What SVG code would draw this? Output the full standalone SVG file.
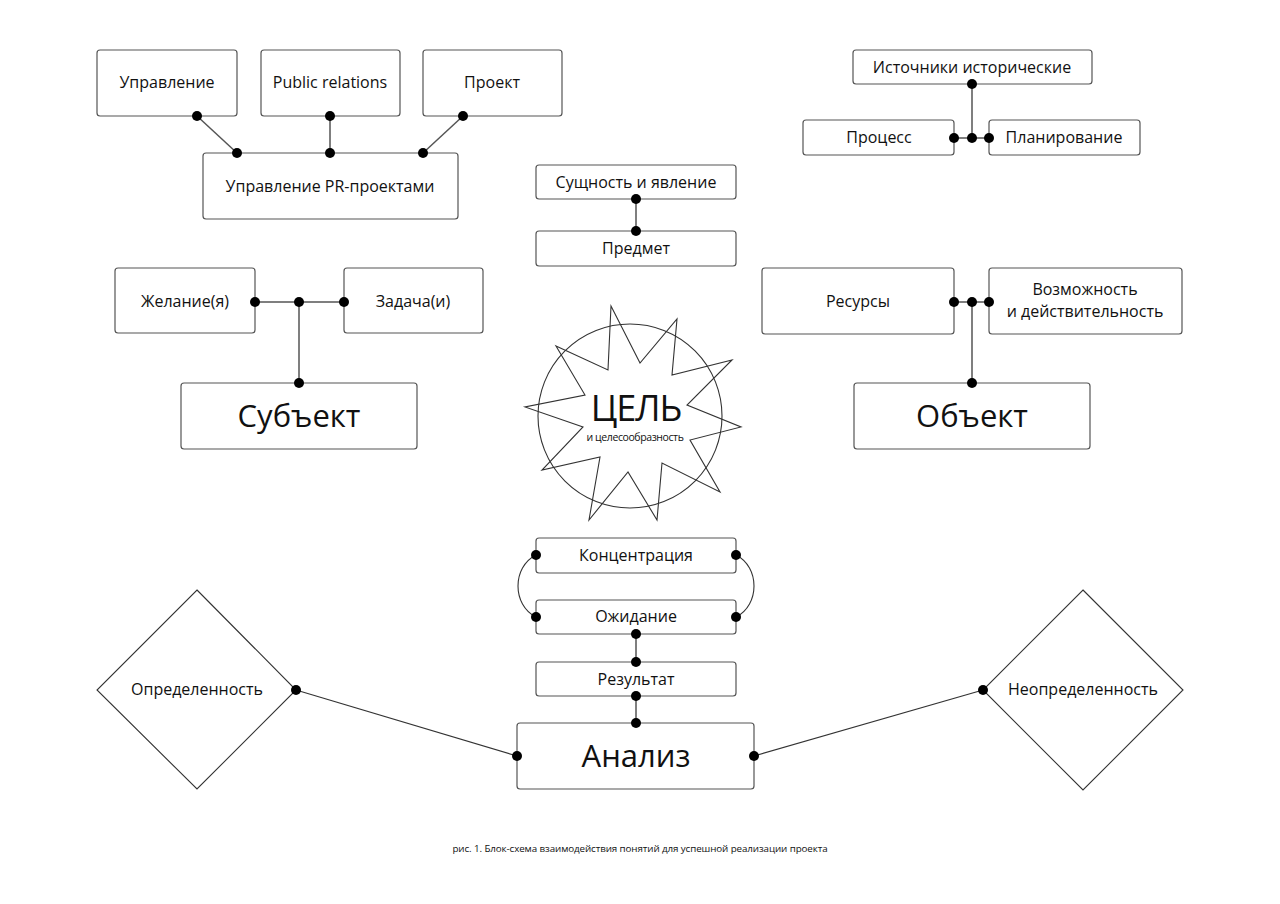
<svg xmlns="http://www.w3.org/2000/svg" width="1280" height="904" viewBox="0 0 1280 904">
<style>
.box{fill:#fff;stroke:#555;stroke-width:1.2}
.dia{fill:#fff;stroke:#333;stroke-width:1.1}
.ln{fill:none;stroke:#555;stroke-width:1.5}
.thin{fill:none;stroke:#333;stroke-width:1.1}
.dot{fill:#000}
text{font-family:"Open Sans","Noto Sans","Liberation Sans",sans-serif;fill:#111;text-anchor:middle}
.t{font-size:16px}
.big{font-size:31px}
</style>
<rect width="1280" height="904" fill="#fff"/>
<g id="connectors">
<line class="ln" x1="197" y1="116" x2="237" y2="153"/>
<line class="ln" x1="330" y1="116" x2="330" y2="153"/>
<line class="ln" x1="463" y1="116" x2="423" y2="153"/>
<line class="ln" x1="972" y1="84" x2="972" y2="138"/>
<line class="ln" x1="954" y1="138" x2="989" y2="138"/>
<line class="ln" x1="636" y1="199" x2="636" y2="231"/>
<line class="ln" x1="255" y1="302" x2="344" y2="302"/>
<line class="ln" x1="299" y1="302" x2="299" y2="383"/>
<line class="ln" x1="954" y1="302" x2="989" y2="302"/>
<line class="ln" x1="972" y1="302" x2="972" y2="383"/>
<path class="thin" d="M536,555 C512,567 512,605 536,617"/>
<path class="thin" d="M736,555 C760,567 760,605 736,617"/>
<line class="ln" x1="636" y1="634" x2="636" y2="662"/>
<line class="ln" x1="636" y1="696" x2="636" y2="723"/>
<line class="thin" x1="296" y1="690" x2="517" y2="756"/>
<line class="thin" x1="983" y1="690" x2="754" y2="756"/>
</g>
<g id="n-upravlenie"><rect class="box" x="97" y="50" width="140" height="66" rx="3"/><text class="t" x="167" y="88">Управление</text></g>
<g id="n-pr"><rect class="box" x="261" y="50" width="139" height="66" rx="3"/><text class="t" x="330" y="88">Public relations</text></g>
<g id="n-proekt"><rect class="box" x="423" y="50" width="139" height="66" rx="3"/><text class="t" x="492" y="88">Проект</text></g>
<g id="n-uprpr"><rect class="box" x="203" y="153" width="255" height="66" rx="3"/><text class="t" x="330" y="192">Управление PR-проектами</text></g>
<g id="n-istochniki"><rect class="box" x="853" y="50" width="239" height="34" rx="3"/><text class="t" x="972" y="73">Источники исторические</text></g>
<g id="n-process"><rect class="box" x="803" y="120" width="151" height="35" rx="3"/><text class="t" x="879" y="143">Процесс</text></g>
<g id="n-planirovanie"><rect class="box" x="989" y="120" width="151" height="35" rx="3"/><text class="t" x="1064" y="143">Планирование</text></g>
<g id="n-sushnost"><rect class="box" x="536" y="165" width="200" height="34" rx="3"/><text class="t" x="636" y="188">Сущность и явление</text></g>
<g id="n-predmet"><rect class="box" x="536" y="231" width="200" height="35" rx="3"/><text class="t" x="636" y="254">Предмет</text></g>
<g id="n-zhelanie"><rect class="box" x="115" y="268" width="140" height="65" rx="3"/><text class="t" x="185" y="307">Желание(я)</text></g>
<g id="n-zadacha"><rect class="box" x="344" y="268" width="139" height="65" rx="3"/><text class="t" x="413" y="307">Задача(и)</text></g>
<g id="n-subekt"><rect class="box" x="181" y="383" width="236" height="66" rx="3"/><text class="big" x="299" y="427">Субъект</text></g>
<g id="n-resursy"><rect class="box" x="762" y="268" width="192" height="66" rx="3"/><text class="t" x="858" y="307">Ресурсы</text></g>
<g id="n-vozmozhnost"><rect class="box" x="989" y="268" width="193" height="66" rx="3"/><text class="t" x="1085" y="295">Возможность</text><text class="t" x="1085" y="317">и действительность</text></g>
<g id="n-obekt"><rect class="box" x="854" y="383" width="236" height="66" rx="3"/><text class="big" x="972" y="427">Объект</text></g>
<g id="n-cel">
<circle class="thin" cx="630" cy="416" r="92"/>
<polygon class="thin" points="611,306 640,363 677,319 672,375 732,360 687,405 741,427 690,440 720,492 662,463 657,520 628,472 589,520 600,457 542,470 583,427 525,407 585,395 556,346 608,370"/>
<text x="636" y="421" font-size="36" letter-spacing="-1">ЦЕЛЬ</text>
<text x="635" y="441" font-size="10.5" letter-spacing="-0.4">и целесообразность</text>
</g>
<g id="n-koncentraciya"><rect class="box" x="536" y="538" width="200" height="35" rx="3"/><text class="t" x="636" y="561">Концентрация</text></g>
<g id="n-ozhidanie"><rect class="box" x="536" y="600" width="200" height="34" rx="3"/><text class="t" x="636" y="622">Ожидание</text></g>
<g id="n-rezultat"><rect class="box" x="536" y="662" width="200" height="34" rx="3"/><text class="t" x="636" y="685">Результат</text></g>
<g id="n-analiz"><rect class="box" x="517" y="723" width="237" height="66" rx="3"/><text class="big" x="636" y="767">Анализ</text></g>
<g id="n-opredelennost"><polygon class="dia" points="197,590 296,690 197,789 97,690"/><text class="t" x="197" y="695">Определенность</text></g>
<g id="n-neopredelennost"><polygon class="dia" points="1083,590 1183,690 1083,790 983,690"/><text class="t" x="1083" y="695">Неопределенность</text></g>
<g id="dots">
<circle class="dot" cx="197" cy="116" r="5"/><circle class="dot" cx="330" cy="116" r="5"/><circle class="dot" cx="463" cy="116" r="5"/>
<circle class="dot" cx="237" cy="153" r="5"/><circle class="dot" cx="330" cy="153" r="5"/><circle class="dot" cx="423" cy="153" r="5"/>
<circle class="dot" cx="972" cy="84" r="5"/><circle class="dot" cx="954" cy="138" r="5"/><circle class="dot" cx="972" cy="138" r="5"/><circle class="dot" cx="989" cy="138" r="5"/>
<circle class="dot" cx="636" cy="199" r="5"/><circle class="dot" cx="636" cy="231" r="5"/>
<circle class="dot" cx="255" cy="302" r="5"/><circle class="dot" cx="299" cy="302" r="5"/><circle class="dot" cx="344" cy="302" r="5"/><circle class="dot" cx="299" cy="383" r="5"/>
<circle class="dot" cx="954" cy="302" r="5"/><circle class="dot" cx="972" cy="302" r="5"/><circle class="dot" cx="989" cy="302" r="5"/><circle class="dot" cx="972" cy="383" r="5"/>
<circle class="dot" cx="536" cy="555" r="5"/><circle class="dot" cx="736" cy="555" r="5"/><circle class="dot" cx="536" cy="617" r="5"/><circle class="dot" cx="736" cy="617" r="5"/>
<circle class="dot" cx="636" cy="634" r="5"/><circle class="dot" cx="636" cy="662" r="5"/><circle class="dot" cx="636" cy="696" r="5"/><circle class="dot" cx="636" cy="723" r="5"/>
<circle class="dot" cx="517" cy="756" r="5"/><circle class="dot" cx="754" cy="756" r="5"/>
<circle class="dot" cx="296" cy="690" r="5"/><circle class="dot" cx="983" cy="690" r="5"/>
</g>
<text x="640" y="852" font-size="9.8" letter-spacing="-0.1">рис. 1. Блок-схема взаимодействия понятий для успешной реализации проекта</text>
</svg>
